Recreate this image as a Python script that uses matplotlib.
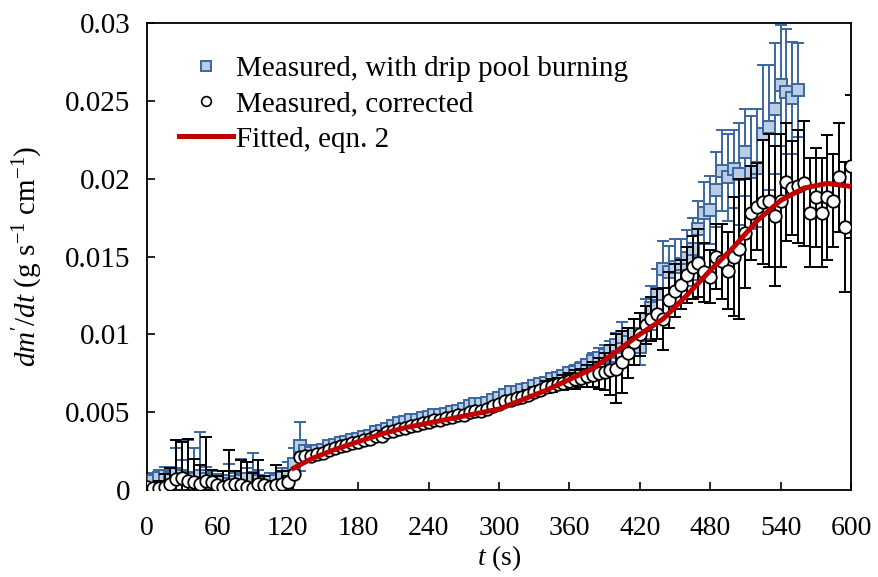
import numpy as np
import matplotlib
matplotlib.use('Agg')
import matplotlib.pyplot as plt
from matplotlib.lines import Line2D

plt.rcParams['font.family'] = ['Liberation Serif', 'DejaVu Serif']
plt.rcParams['mathtext.fontset'] = 'custom'
plt.rcParams['mathtext.rm'] = 'Liberation Serif'
plt.rcParams['mathtext.it'] = 'Liberation Serif:italic'

# measured, with drip pool burning (t = 0..555 s, every 5 s)
t_drip = np.arange(0, 556, 5)
drip = [0.0003, 0.0006, 0.0008, 0.0009, 0.0008, 0.0010, 0.0009, 0.0008, 0.0007, 0.0009,
        0.0007, 0.0006, 0.0005, 0.0006, 0.0004, 0.0005, 0.0006, 0.0007, 0.0008, 0.0006,
        0.0004, 0.0005, 0.0006, 0.0008, 0.0010, 0.0017, 0.0028, 0.0025, 0.0024, 0.0025,
        0.0026, 0.0028, 0.0029, 0.0030, 0.0031, 0.0032, 0.0033, 0.0034, 0.0035, 0.0037,
        0.0038, 0.0039, 0.0041, 0.0043, 0.0044, 0.0045, 0.0045, 0.0046, 0.0047, 0.0048,
        0.0048, 0.0049, 0.0050, 0.0051, 0.0052, 0.0054, 0.0055, 0.0055, 0.0056, 0.0058,
        0.0059, 0.0061, 0.0063, 0.0063, 0.0064, 0.0065, 0.0067, 0.0068, 0.0069, 0.0071,
        0.0072, 0.0073, 0.0075, 0.0076, 0.0078, 0.0080, 0.0083, 0.0085, 0.0087, 0.0089,
        0.0093, 0.0098, 0.0095, 0.0100, 0.0092, 0.0110, 0.0117, 0.0126, 0.0142, 0.0140,
        0.0143, 0.0145, 0.0149, 0.0155, 0.0168, 0.0178, 0.0180, 0.0193, 0.0205, 0.0201,
        0.0206, 0.0203, 0.0217, 0.0204, 0.0207, 0.0229, 0.0233, 0.0245, 0.0260, 0.0256,
        0.0252, 0.0257]
drip_err = [0.0004, 0.0005, 0.0005, 0.0006, 0.0007, 0.0017, 0.0010, 0.0024, 0.0020, 0.0028,
            0.0008, 0.0006, 0.0005, 0.0006, 0.0013, 0.0006, 0.0014, 0.0007, 0.0016, 0.0007,
            0.0005, 0.0006, 0.0005, 0.0006, 0.0008, 0.0010, 0.0016, 0.0003, 0.0002, 0.0002,
            0.0002, 0.0002, 0.0002, 0.0002, 0.0002, 0.0002, 0.0002, 0.0002, 0.0002, 0.0002,
            0.0002, 0.0002, 0.0002, 0.0002, 0.0002, 0.0002, 0.0002, 0.0002, 0.0002, 0.0002,
            0.0002, 0.0002, 0.0002, 0.0002, 0.0002, 0.0002, 0.0002, 0.0002, 0.0002, 0.0002,
            0.0002, 0.0002, 0.0002, 0.0002, 0.0002, 0.0002, 0.0002, 0.0003, 0.0003, 0.0003,
            0.0003, 0.0003, 0.0003, 0.0004, 0.0004, 0.0004, 0.0005, 0.0006, 0.0006, 0.0007,
            0.0008, 0.0010, 0.0009, 0.0010, 0.0012, 0.0013, 0.0014, 0.0016, 0.0018, 0.0017,
            0.0018, 0.0016, 0.0018, 0.0020, 0.0018, 0.0020, 0.0022, 0.0024, 0.0026, 0.0028,
            0.0025, 0.0033, 0.0028, 0.0036, 0.0038, 0.0044, 0.0040, 0.0042, 0.0039, 0.0040,
            0.0036, 0.0030]

# measured, corrected (t = 0..600 s, every 5 s)
t_corr = np.arange(0, 601, 5)
corr = [0.0002, 0.0001, 0.0001, 0.0002, 0.0004, 0.0007, 0.0008, 0.0006, 0.0005, 0.0004,
        0.0006, 0.0005, 0.0003, 0.0002, 0.0003, 0.0004, 0.0003, 0.0002, 0.0001, 0.0004,
        0.0003, 0.0002, 0.0003, 0.0004, 0.0005, 0.0010, 0.0021, 0.0022, 0.0022, 0.0023,
        0.0024, 0.0026, 0.0027, 0.0028, 0.0029, 0.0030, 0.0031, 0.0032, 0.0033, 0.0035,
        0.0035, 0.0037, 0.0038, 0.0039, 0.0040, 0.0041, 0.0042, 0.0043, 0.0044, 0.0045,
        0.0045, 0.0046, 0.0047, 0.0048, 0.0048, 0.0050, 0.0051, 0.0051, 0.0052, 0.0054,
        0.0055, 0.0057, 0.0058, 0.0059, 0.0060, 0.0061, 0.0063, 0.0064, 0.0066, 0.0067,
        0.0068, 0.0069, 0.0070, 0.0071, 0.0072, 0.0073, 0.0074, 0.0075, 0.0076, 0.0077,
        0.0078, 0.0082, 0.0088, 0.0095, 0.0100, 0.0106, 0.0110, 0.0113, 0.0110, 0.0122,
        0.0128, 0.0132, 0.0138, 0.0143, 0.0146, 0.0140, 0.0137, 0.0150, 0.0147, 0.0141,
        0.0150, 0.0155, 0.0165, 0.0178, 0.0182, 0.0185, 0.0186, 0.0176, 0.0186, 0.0198,
        0.0194, 0.0195, 0.0197, 0.0178, 0.0188, 0.0178, 0.0188, 0.0186, 0.0201, 0.0169,
        0.0208]
corr_err = [0.0002, 0.0003, 0.0005, 0.0008, 0.0010, 0.0025, 0.0023, 0.0027, 0.0015, 0.0012,
            0.0028, 0.0008, 0.0006, 0.0010, 0.0023, 0.0008, 0.0016, 0.0016, 0.0010, 0.0015,
            0.0006, 0.0004, 0.0013, 0.0008, 0.0004, 0.0002, 0.0002, 0.0002, 0.0002, 0.0002,
            0.0002, 0.0002, 0.0002, 0.0002, 0.0002, 0.0002, 0.0002, 0.0002, 0.0002, 0.0002,
            0.0002, 0.0002, 0.0002, 0.0002, 0.0002, 0.0002, 0.0002, 0.0002, 0.0002, 0.0002,
            0.0002, 0.0002, 0.0002, 0.0002, 0.0002, 0.0002, 0.0002, 0.0002, 0.0002, 0.0002,
            0.0002, 0.0002, 0.0002, 0.0002, 0.0003, 0.0003, 0.0003, 0.0003, 0.0004, 0.0004,
            0.0004, 0.0005, 0.0005, 0.0006, 0.0006, 0.0007, 0.0008, 0.0010, 0.0012, 0.0016,
            0.0022, 0.0020, 0.0016, 0.0015, 0.0014, 0.0012, 0.0014, 0.0016, 0.0020, 0.0018,
            0.0017, 0.0016, 0.0018, 0.0020, 0.0022, 0.0019, 0.0017, 0.0021, 0.0024, 0.0025,
            0.0038, 0.0045, 0.0035, 0.0030, 0.0028, 0.0040, 0.0043, 0.0045, 0.0043, 0.0038,
            0.0030, 0.0036, 0.0040, 0.0035, 0.0032, 0.0035, 0.0040, 0.0030, 0.0035, 0.0042,
            0.0046]

# fitted, eqn. 2
t_fit = [125, 140, 160, 180, 200, 220, 240, 260, 280, 300, 320, 340, 360, 380, 400,
         420, 440, 460, 480, 500, 520, 540, 560, 580, 600]
fit = [0.0014, 0.0020, 0.0026, 0.0031, 0.0036, 0.0040, 0.0043, 0.0046, 0.0049, 0.0052,
       0.0058, 0.0064, 0.0071, 0.0078, 0.0089, 0.0100, 0.0110, 0.0125, 0.0141, 0.0156,
       0.0173, 0.0186, 0.0194, 0.0197, 0.0195]

blue_edge = '#3B679E'
blue_face = '#B9CDE5'
red = '#C00000'

fig = plt.figure(figsize=(8.79, 5.77), dpi=100)
ax = fig.add_axes([0.1672, 0.1508, 0.8009, 0.8092])

ax.errorbar(t_drip, drip, yerr=drip_err, fmt='none', ecolor=blue_edge,
            elinewidth=1.4, capsize=4.5, capthick=1.4, zorder=2)
ax.plot(t_drip, drip, 's', ms=8.5, mfc=blue_face, mec=blue_edge, mew=1.4, zorder=3)
ax.errorbar(t_corr, corr, yerr=corr_err, fmt='none', ecolor='black',
            elinewidth=1.4, capsize=4.5, capthick=1.4, zorder=4)
ax.plot(t_corr, corr, 'o', ms=9, mfc='white', mec='black', mew=1.3, zorder=5)
ax.plot(t_fit, fit, '-', color=red, lw=3.6, zorder=6)

ax.set_xlim(0, 600)
ax.set_ylim(0, 0.03)
ax.set_xticks(np.arange(0, 601, 60))
ax.set_yticks(np.arange(0, 0.0301, 0.005))
ax.set_yticklabels(['0', '0.005', '0.01', '0.015', '0.02', '0.025', '0.03'])
ax.tick_params(direction='in', length=6, width=1.2, labelsize=21)
ax.tick_params(axis='x', pad=19, labelsize=20)
ax.tick_params(axis='y', pad=12)
for s in ax.spines.values():
    s.set_linewidth(1.3)

ax.set_xlabel(r'$t$ (s)', fontsize=20, labelpad=1)
ax.set_ylabel(r"$dm'/dt$ (g s$^{-1}$ cm$^{-1}$)", fontsize=21, labelpad=14)

handles = [Line2D([], [], ls='none', marker='s', ms=7.5, mfc=blue_face, mec=blue_edge, mew=1.4),
           Line2D([], [], ls='none', marker='o', ms=7, mfc='white', mec='black', mew=1.2),
           Line2D([], [], color=red, lw=3.6)]
labels = ['Measured, with drip pool burning', 'Measured, corrected', 'Fitted, eqn. 2']
ax.legend(handles, labels, loc='upper left', bbox_to_anchor=(0.045, 0.93),
          frameon=False, fontsize=21, handlelength=1.85, handletextpad=0.12,
          labelspacing=0.3, borderpad=0, borderaxespad=0)

plt.savefig('out.png', dpi=100)
